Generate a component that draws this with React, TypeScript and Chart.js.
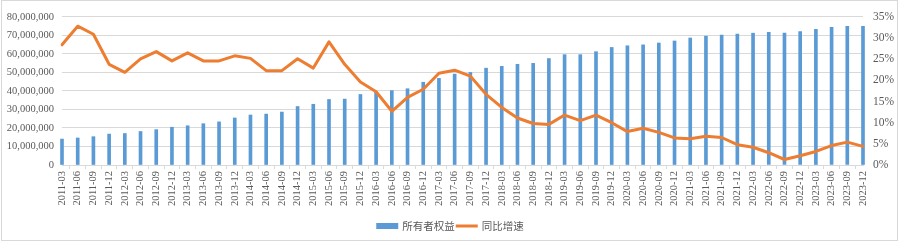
import React, { useEffect, useRef } from "react";
import { Chart, registerables } from "chart.js";

Chart.register(...registerables);

const categories: string[] = [
  "2011-03", "2011-06", "2011-09", "2011-12",
  "2012-03", "2012-06", "2012-09", "2012-12",
  "2013-03", "2013-06", "2013-09", "2013-12",
  "2014-03", "2014-06", "2014-09", "2014-12",
  "2015-03", "2015-06", "2015-09", "2015-12",
  "2016-03", "2016-06", "2016-09", "2016-12",
  "2017-03", "2017-06", "2017-09", "2017-12",
  "2018-03", "2018-06", "2018-09", "2018-12",
  "2019-03", "2019-06", "2019-09", "2019-12",
  "2020-03", "2020-06", "2020-09", "2020-12",
  "2021-03", "2021-06", "2021-09", "2021-12",
  "2022-03", "2022-06", "2022-09", "2022-12",
  "2023-03", "2023-06", "2023-09", "2023-12",
];

// 所有者权益
const equityValues: number[] = [
  14000000, 14600000, 15300000, 16700000,
  17000000, 18100000, 19100000, 20400000,
  21200000, 22300000, 23300000, 25400000,
  27000000, 27500000, 28600000, 31600000,
  32800000, 35400000, 35600000, 38100000,
  39500000, 40200000, 41200000, 44700000,
  46800000, 49100000, 50000000, 52300000,
  53300000, 54400000, 54900000, 57500000,
  59600000, 59600000, 61200000, 63500000,
  64400000, 64900000, 65900000, 67000000,
  68600000, 69600000, 70200000, 70700000,
  71200000, 71600000, 71200000, 72100000,
  73300000, 74400000, 74900000, 74900000,
];

// 同比增速 (%)
const growthValues: number[] = [
  28.4, 32.8, 30.9, 23.8,
  21.9, 25.1, 26.8, 24.6,
  26.5, 24.6, 24.6, 25.8,
  25.2, 22.3, 22.3, 25.1,
  22.9, 29.1, 23.8, 19.6,
  17.3, 12.7, 16.0, 17.9,
  21.7, 22.4, 21.0, 16.7,
  13.6, 11.1, 9.8, 9.6,
  11.8, 10.5, 11.8, 10.0,
  7.9, 8.7, 7.7, 6.4,
  6.2, 6.8, 6.5, 4.8,
  4.2, 2.9, 1.3, 2.2,
  3.2, 4.6, 5.4, 4.4,
];

const leftTicks = { min: 0, max: 80000000, step: 10000000 };
const rightTicks = { min: 0, max: 35, step: 5 };

const seriesNames = ["所有者权益", "同比增速"];

const BLUE = "#5B9BD5";
const ORANGE = "#ED7D31";
const GRID = "#D9D9D9";
const TEXT = "#595959";
const FONT = "'Liberation Serif', 'Times New Roman', serif";
const CJK_FONT = "'Noto Sans CJK SC', sans-serif";

const legendPlugin = {
  id: "customLegend",
  afterDraw(chart: any) {
    const ctx = chart.ctx;
    const ds = chart.data.datasets;
    ctx.save();
    ctx.font = `10.5px ${CJK_FONT}`;
    ctx.textBaseline = "middle";
    const boxW = 22;
    const gap = 4;
    const itemGap = 1;
    const widths = ds.map((d: any) => boxW + gap + ctx.measureText(d.label).width);
    const total = widths.reduce((a: number, b: number) => a + b, 0) + itemGap * (ds.length - 1);
    let x = (chart.width - total) / 2;
    const y = 226;
    ds.forEach((d: any, i: number) => {
      if (d.type === "line") {
        ctx.strokeStyle = d.borderColor;
        ctx.lineWidth = 3;
        ctx.beginPath();
        ctx.moveTo(x, y);
        ctx.lineTo(x + boxW, y);
        ctx.stroke();
      } else {
        ctx.fillStyle = d.backgroundColor;
        ctx.fillRect(x, y - 3, boxW, 6);
      }
      ctx.fillStyle = TEXT;
      ctx.textAlign = "left";
      ctx.fillText(d.label, x + boxW + gap, y + 0.5);
      x += widths[i] + itemGap;
    });
    ctx.restore();
  },
};

function ChartView() {
  const ref = useRef<HTMLCanvasElement | null>(null);
  useEffect(() => {
    let chart: Chart | null = null;
    let cancelled = false;
    const build = () => {
      if (cancelled || !ref.current) return;
      chart = new Chart(ref.current, {
        type: "bar",
        data: {
          labels: categories,
          datasets: [
            {
              type: "bar",
              label: seriesNames[0],
              data: equityValues,
              yAxisID: "y",
              backgroundColor: BLUE,
              borderWidth: 0,
              barThickness: 3,
              clip: false,
              order: 1,
            } as any,
            {
              type: "line",
              label: seriesNames[1],
              data: growthValues,
              yAxisID: "y1",
              borderColor: ORANGE,
              backgroundColor: ORANGE,
              borderWidth: 3,
              pointRadius: 0,
              tension: 0,
              borderJoinStyle: "round",
              borderCapStyle: "round",
              order: 0,
            } as any,
          ],
        },
        options: {
          animation: false,
          responsive: false,
          maintainAspectRatio: false,
          layout: { padding: { top: 9.1, bottom: 0, left: 0, right: 0 } },
          plugins: {
            legend: { display: false },
            tooltip: { enabled: false },
          },
          scales: {
            x: {
              offset: false,
              grid: {
                drawOnChartArea: false,
                drawTicks: true,
                tickLength: 4,
                color: GRID,
              },
              border: { display: true, color: GRID, width: 1 },
              ticks: {
                autoSkip: false,
                minRotation: 90,
                maxRotation: 90,
                padding: 2,
                color: TEXT,
                font: { family: FONT, size: 10.5 },
              },
              afterFit(scale: any) {
                scale.height = 77;
              },
            },
            y: {
              position: "left",
              min: leftTicks.min,
              max: leftTicks.max,
              ticks: {
                stepSize: leftTicks.step,
                padding: 8,
                color: TEXT,
                font: { family: FONT, size: 10.5 },
                callback: (v: any) => Number(v).toLocaleString("en-US"),
              },
              grid: { color: GRID, drawTicks: false, lineWidth: 1 },
              border: { display: false },
              afterFit(scale: any) {
                scale.width = 62;
              },
            },
            y1: {
              position: "right",
              min: rightTicks.min,
              max: rightTicks.max,
              ticks: {
                stepSize: rightTicks.step,
                padding: 10,
                color: TEXT,
                font: { family: FONT, size: 11.5 },
                callback: (v: any) => `${v}%`,
              },
              grid: { drawOnChartArea: false, drawTicks: false },
              border: { display: false },
              afterFit(scale: any) {
                scale.width = 37;
              },
            },
          },
        },
        plugins: [legendPlugin],
      });
    };
    const fonts: any = (document as any).fonts;
    if (fonts && fonts.load) {
      Promise.all([
        fonts.load("10px 'Liberation Serif'"),
        fonts.load("10px 'Noto Sans CJK SC'", "所有者权益同比增速"),
      ])
        .catch(() => null)
        .then(build);
    } else {
      build();
    }
    return () => {
      cancelled = true;
      if (chart) chart.destroy();
    };
  }, []);
  return <canvas ref={ref} width={900} height={242} style={{ display: "block", width: 900, height: 242 }} />;
}

export default function App() {
  return (
    <div style={{ position: "fixed", left: 0, top: 0, width: 900, height: 242, background: "#fff" }}>
      <ChartView />
      <div
        style={{
          position: "absolute",
          left: 1,
          top: 0,
          width: 897,
          height: 241,
          border: "1px solid #D9D9D9",
          boxSizing: "border-box",
          pointerEvents: "none",
        }}
      />
    </div>
  );
}
